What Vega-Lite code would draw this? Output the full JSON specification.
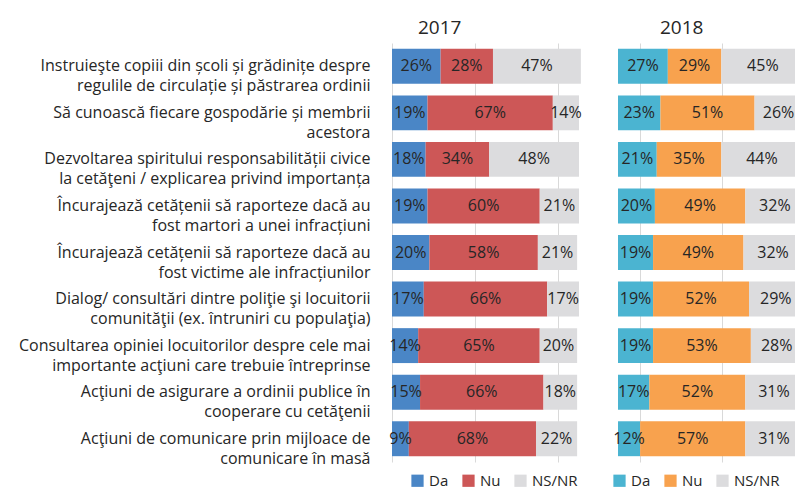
{
  "$schema": "https://vega.github.io/schema/vega-lite/v6.json",
  "padding": {"left": 18, "top": 19, "right": 0, "bottom": 30},
  "background": "white",
  "config": {"view": {"stroke": null}, "font": "Open Sans"},
  "datasets": {
    "d": [
      {"year": 2017, "cat": "Instruieşte copiii din școli și grădinițe despre|regulile de circulație și păstrarea ordinii", "ans": "Da", "ord": 1, "val": 0.26},
      {"year": 2017, "cat": "Instruieşte copiii din școli și grădinițe despre|regulile de circulație și păstrarea ordinii", "ans": "Nu", "ord": 2, "val": 0.28},
      {"year": 2017, "cat": "Instruieşte copiii din școli și grădinițe despre|regulile de circulație și păstrarea ordinii", "ans": "NS/NR", "ord": 3, "val": 0.47},
      {"year": 2017, "cat": "Să cunoască fiecare gospodărie și membrii|acestora", "ans": "Da", "ord": 1, "val": 0.19},
      {"year": 2017, "cat": "Să cunoască fiecare gospodărie și membrii|acestora", "ans": "Nu", "ord": 2, "val": 0.67},
      {"year": 2017, "cat": "Să cunoască fiecare gospodărie și membrii|acestora", "ans": "NS/NR", "ord": 3, "val": 0.14},
      {"year": 2017, "cat": "Dezvoltarea spiritului responsabilității civice|la cetăţeni / explicarea privind importanța", "ans": "Da", "ord": 1, "val": 0.18},
      {"year": 2017, "cat": "Dezvoltarea spiritului responsabilității civice|la cetăţeni / explicarea privind importanța", "ans": "Nu", "ord": 2, "val": 0.34},
      {"year": 2017, "cat": "Dezvoltarea spiritului responsabilității civice|la cetăţeni / explicarea privind importanța", "ans": "NS/NR", "ord": 3, "val": 0.48},
      {"year": 2017, "cat": "Încurajează cetățenii să raporteze dacă au|fost martori a unei infracțiuni", "ans": "Da", "ord": 1, "val": 0.19},
      {"year": 2017, "cat": "Încurajează cetățenii să raporteze dacă au|fost martori a unei infracțiuni", "ans": "Nu", "ord": 2, "val": 0.60},
      {"year": 2017, "cat": "Încurajează cetățenii să raporteze dacă au|fost martori a unei infracțiuni", "ans": "NS/NR", "ord": 3, "val": 0.21},
      {"year": 2017, "cat": "Încurajează cetățenii să raporteze dacă au|fost victime ale infracțiunilor", "ans": "Da", "ord": 1, "val": 0.20},
      {"year": 2017, "cat": "Încurajează cetățenii să raporteze dacă au|fost victime ale infracțiunilor", "ans": "Nu", "ord": 2, "val": 0.58},
      {"year": 2017, "cat": "Încurajează cetățenii să raporteze dacă au|fost victime ale infracțiunilor", "ans": "NS/NR", "ord": 3, "val": 0.21},
      {"year": 2017, "cat": "Dialog/ consultări dintre poliţie şi locuitorii|comunităţii (ex. întruniri cu populaţia)", "ans": "Da", "ord": 1, "val": 0.17},
      {"year": 2017, "cat": "Dialog/ consultări dintre poliţie şi locuitorii|comunităţii (ex. întruniri cu populaţia)", "ans": "Nu", "ord": 2, "val": 0.66},
      {"year": 2017, "cat": "Dialog/ consultări dintre poliţie şi locuitorii|comunităţii (ex. întruniri cu populaţia)", "ans": "NS/NR", "ord": 3, "val": 0.17},
      {"year": 2017, "cat": "Consultarea opiniei locuitorilor despre cele mai|importante acţiuni care trebuie întreprinse", "ans": "Da", "ord": 1, "val": 0.14},
      {"year": 2017, "cat": "Consultarea opiniei locuitorilor despre cele mai|importante acţiuni care trebuie întreprinse", "ans": "Nu", "ord": 2, "val": 0.65},
      {"year": 2017, "cat": "Consultarea opiniei locuitorilor despre cele mai|importante acţiuni care trebuie întreprinse", "ans": "NS/NR", "ord": 3, "val": 0.20},
      {"year": 2017, "cat": "Acţiuni de asigurare a ordinii publice în|cooperare cu cetăţenii", "ans": "Da", "ord": 1, "val": 0.15},
      {"year": 2017, "cat": "Acţiuni de asigurare a ordinii publice în|cooperare cu cetăţenii", "ans": "Nu", "ord": 2, "val": 0.66},
      {"year": 2017, "cat": "Acţiuni de asigurare a ordinii publice în|cooperare cu cetăţenii", "ans": "NS/NR", "ord": 3, "val": 0.18},
      {"year": 2017, "cat": "Acţiuni de comunicare prin mijloace de|comunicare în masă", "ans": "Da", "ord": 1, "val": 0.09},
      {"year": 2017, "cat": "Acţiuni de comunicare prin mijloace de|comunicare în masă", "ans": "Nu", "ord": 2, "val": 0.68},
      {"year": 2017, "cat": "Acţiuni de comunicare prin mijloace de|comunicare în masă", "ans": "NS/NR", "ord": 3, "val": 0.22},
      {"year": 2018, "cat": "Instruieşte copiii din școli și grădinițe despre|regulile de circulație și păstrarea ordinii", "ans": "Da", "ord": 1, "val": 0.27},
      {"year": 2018, "cat": "Instruieşte copiii din școli și grădinițe despre|regulile de circulație și păstrarea ordinii", "ans": "Nu", "ord": 2, "val": 0.29},
      {"year": 2018, "cat": "Instruieşte copiii din școli și grădinițe despre|regulile de circulație și păstrarea ordinii", "ans": "NS/NR", "ord": 3, "val": 0.45},
      {"year": 2018, "cat": "Să cunoască fiecare gospodărie și membrii|acestora", "ans": "Da", "ord": 1, "val": 0.23},
      {"year": 2018, "cat": "Să cunoască fiecare gospodărie și membrii|acestora", "ans": "Nu", "ord": 2, "val": 0.51},
      {"year": 2018, "cat": "Să cunoască fiecare gospodărie și membrii|acestora", "ans": "NS/NR", "ord": 3, "val": 0.26},
      {"year": 2018, "cat": "Dezvoltarea spiritului responsabilității civice|la cetăţeni / explicarea privind importanța", "ans": "Da", "ord": 1, "val": 0.21},
      {"year": 2018, "cat": "Dezvoltarea spiritului responsabilității civice|la cetăţeni / explicarea privind importanța", "ans": "Nu", "ord": 2, "val": 0.35},
      {"year": 2018, "cat": "Dezvoltarea spiritului responsabilității civice|la cetăţeni / explicarea privind importanța", "ans": "NS/NR", "ord": 3, "val": 0.44},
      {"year": 2018, "cat": "Încurajează cetățenii să raporteze dacă au|fost martori a unei infracțiuni", "ans": "Da", "ord": 1, "val": 0.20},
      {"year": 2018, "cat": "Încurajează cetățenii să raporteze dacă au|fost martori a unei infracțiuni", "ans": "Nu", "ord": 2, "val": 0.49},
      {"year": 2018, "cat": "Încurajează cetățenii să raporteze dacă au|fost martori a unei infracțiuni", "ans": "NS/NR", "ord": 3, "val": 0.32},
      {"year": 2018, "cat": "Încurajează cetățenii să raporteze dacă au|fost victime ale infracțiunilor", "ans": "Da", "ord": 1, "val": 0.19},
      {"year": 2018, "cat": "Încurajează cetățenii să raporteze dacă au|fost victime ale infracțiunilor", "ans": "Nu", "ord": 2, "val": 0.49},
      {"year": 2018, "cat": "Încurajează cetățenii să raporteze dacă au|fost victime ale infracțiunilor", "ans": "NS/NR", "ord": 3, "val": 0.32},
      {"year": 2018, "cat": "Dialog/ consultări dintre poliţie şi locuitorii|comunităţii (ex. întruniri cu populaţia)", "ans": "Da", "ord": 1, "val": 0.19},
      {"year": 2018, "cat": "Dialog/ consultări dintre poliţie şi locuitorii|comunităţii (ex. întruniri cu populaţia)", "ans": "Nu", "ord": 2, "val": 0.52},
      {"year": 2018, "cat": "Dialog/ consultări dintre poliţie şi locuitorii|comunităţii (ex. întruniri cu populaţia)", "ans": "NS/NR", "ord": 3, "val": 0.29},
      {"year": 2018, "cat": "Consultarea opiniei locuitorilor despre cele mai|importante acţiuni care trebuie întreprinse", "ans": "Da", "ord": 1, "val": 0.19},
      {"year": 2018, "cat": "Consultarea opiniei locuitorilor despre cele mai|importante acţiuni care trebuie întreprinse", "ans": "Nu", "ord": 2, "val": 0.53},
      {"year": 2018, "cat": "Consultarea opiniei locuitorilor despre cele mai|importante acţiuni care trebuie întreprinse", "ans": "NS/NR", "ord": 3, "val": 0.28},
      {"year": 2018, "cat": "Acţiuni de asigurare a ordinii publice în|cooperare cu cetăţenii", "ans": "Da", "ord": 1, "val": 0.17},
      {"year": 2018, "cat": "Acţiuni de asigurare a ordinii publice în|cooperare cu cetăţenii", "ans": "Nu", "ord": 2, "val": 0.52},
      {"year": 2018, "cat": "Acţiuni de asigurare a ordinii publice în|cooperare cu cetăţenii", "ans": "NS/NR", "ord": 3, "val": 0.31},
      {"year": 2018, "cat": "Acţiuni de comunicare prin mijloace de|comunicare în masă", "ans": "Da", "ord": 1, "val": 0.12},
      {"year": 2018, "cat": "Acţiuni de comunicare prin mijloace de|comunicare în masă", "ans": "Nu", "ord": 2, "val": 0.57},
      {"year": 2018, "cat": "Acţiuni de comunicare prin mijloace de|comunicare în masă", "ans": "NS/NR", "ord": 3, "val": 0.31}
    ]
  },
  "spacing": 30,
  "resolve": {"scale": {"color": "independent", "x": "independent", "y": "independent"}, "legend": {"color": "independent"}},
  "hconcat": [
    {
      "width": 187,
      "height": 419,
      "title": {"text": "2017", "anchor": "start", "frame": "group", "dx": 26, "fontSize": 19, "fontWeight": "normal", "color": "#262626", "offset": 5, "font": "Open Sans"},
      "data": {"name": "d"},
      "transform": [{"filter": "datum.year == 2017"}],
      "encoding": {
        "y": {
          "field": "cat", "type": "nominal",
          "scale": {"domain": [
            "Instruieşte copiii din școli și grădinițe despre|regulile de circulație și păstrarea ordinii",
            "Să cunoască fiecare gospodărie și membrii|acestora",
            "Dezvoltarea spiritului responsabilității civice|la cetăţeni / explicarea privind importanța",
            "Încurajează cetățenii să raporteze dacă au|fost martori a unei infracțiuni",
            "Încurajează cetățenii să raporteze dacă au|fost victime ale infracțiunilor",
            "Dialog/ consultări dintre poliţie şi locuitorii|comunităţii (ex. întruniri cu populaţia)",
            "Consultarea opiniei locuitorilor despre cele mai|importante acţiuni care trebuie întreprinse",
            "Acţiuni de asigurare a ordinii publice în|cooperare cu cetăţenii",
            "Acţiuni de comunicare prin mijloace de|comunicare în masă"
          ], "paddingInner": 0.25, "paddingOuter": 0.125},
          "axis": {"title": null, "ticks": false, "labelPadding": 22, "labelFontSize": 16, "labelLineHeight": 20, "labelColor": "#262626", "labelFont": "Open Sans", "domainColor": "#d9d9d9", "labelLimit": 0, "labelExpr": "split(datum.value, '|')", "grid": false}
        }
      },
      "layer": [
        {
          "mark": {"type": "bar"},
          "encoding": {
            "x": {"field": "val", "type": "quantitative", "stack": "zero", "scale": {"domain": [0, 1], "nice": false}, "axis": {"values": [0.445, 0.89], "grid": true, "gridColor": "#d9d9d9", "labels": false, "ticks": false, "domain": false, "title": null}},
            "color": {"field": "ans", "type": "nominal", "scale": {"domain": ["Da", "Nu", "NS/NR"], "range": ["#4a86c6", "#cd5757", "#dcdcde"]},
              "legend": {"orient": "none", "legendX": 18, "legendY": 430, "direction": "horizontal", "title": null, "symbolType": "square", "symbolSize": 150, "symbolStrokeWidth": 0, "labelFontSize": 15, "labelFont": "Open Sans", "labelColor": "#262626", "columnPadding": 12}},
            "order": {"field": "ord"}
          }
        },
        {
          "transform": [
            {"stack": "val", "groupby": ["cat"], "sort": [{"field": "ord"}], "as": ["v0", "v1"]},
            {"calculate": "(datum.v0 + datum.v1) / 2", "as": "mid"}
          ],
          "mark": {"type": "text", "fontSize": 16, "color": "#262626", "font": "Open Sans"},
          "encoding": {
            "x": {"field": "mid", "type": "quantitative"},
            "text": {"field": "val", "type": "quantitative", "format": ".0%"}
          }
        }
      ]
    },
    {
      "width": 179,
      "height": 419,
      "title": {"text": "2018", "anchor": "start", "frame": "group", "dx": 42, "fontSize": 19, "fontWeight": "normal", "color": "#262626", "offset": 5, "font": "Open Sans"},
      "data": {"name": "d"},
      "transform": [{"filter": "datum.year == 2018"}],
      "encoding": {
        "y": {
          "field": "cat", "type": "nominal",
          "scale": {"domain": [
            "Instruieşte copiii din școli și grădinițe despre|regulile de circulație și păstrarea ordinii",
            "Să cunoască fiecare gospodărie și membrii|acestora",
            "Dezvoltarea spiritului responsabilității civice|la cetăţeni / explicarea privind importanța",
            "Încurajează cetățenii să raporteze dacă au|fost martori a unei infracțiuni",
            "Încurajează cetățenii să raporteze dacă au|fost victime ale infracțiunilor",
            "Dialog/ consultări dintre poliţie şi locuitorii|comunităţii (ex. întruniri cu populaţia)",
            "Consultarea opiniei locuitorilor despre cele mai|importante acţiuni care trebuie întreprinse",
            "Acţiuni de asigurare a ordinii publice în|cooperare cu cetăţenii",
            "Acţiuni de comunicare prin mijloace de|comunicare în masă"
          ], "paddingInner": 0.25, "paddingOuter": 0.125},
          "axis": null
        }
      },
      "layer": [
        {
          "mark": {"type": "bar", "clip": true},
          "encoding": {
            "x": {"field": "val", "type": "quantitative", "stack": "zero", "scale": {"domain": [0, 0.97], "nice": false}, "axis": {"values": [0.12, 0.565], "grid": true, "gridColor": "#d9d9d9", "labels": false, "ticks": false, "domain": false, "title": null}},
            "color": {"field": "ans", "type": "nominal", "scale": {"domain": ["Da", "Nu", "NS/NR"], "range": ["#4bb4d1", "#f8a24e", "#dcdcde"]},
              "legend": {"orient": "none", "legendX": -6, "legendY": 430, "direction": "horizontal", "title": null, "symbolType": "square", "symbolSize": 150, "symbolStrokeWidth": 0, "labelFontSize": 15, "labelFont": "Open Sans", "labelColor": "#262626", "columnPadding": 12}},
            "order": {"field": "ord"}
          }
        },
        {
          "transform": [
            {"stack": "val", "groupby": ["cat"], "sort": [{"field": "ord"}], "as": ["v0", "v1"]},
            {"calculate": "(datum.v0 + datum.v1) / 2", "as": "mid"}
          ],
          "mark": {"type": "text", "fontSize": 16, "color": "#262626", "font": "Open Sans"},
          "encoding": {
            "x": {"field": "mid", "type": "quantitative"},
            "text": {"field": "val", "type": "quantitative", "format": ".0%"}
          }
        }
      ]
    }
  ]
}
